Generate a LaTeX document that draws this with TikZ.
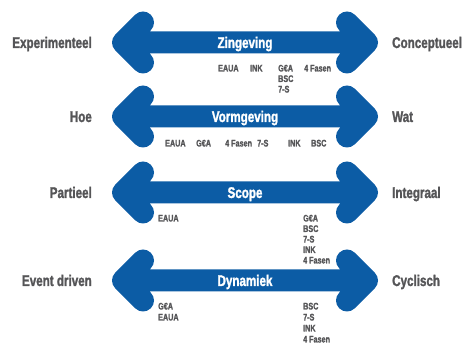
\documentclass[tikz,border=0pt]{standalone}
\usepackage{fontspec}
\setmainfont[FakeStretch=0.75, BoldFeatures={FakeBold=1.5}]{Liberation Sans}
\definecolor{arrowblue}{RGB}{12,92,165}
\definecolor{labelgray}{RGB}{85,85,87}
\tikzset{
  bigarrow/.style={draw=arrowblue, line width=22pt, line cap=round, line join=round},
  sidelabel/.style={inner sep=0pt, text=labelgray, font=\fontsize{15.5}{17}\selectfont\bfseries},
  arrowlabel/.style={inner sep=0pt, text=white, font=\fontsize{15.5}{17}\selectfont\bfseries, anchor=base},
  small/.style={inner sep=0pt, text=labelgray, font=\fontsize{9.6}{11}\selectfont\bfseries, anchor=base west}
}
\newcommand{\dblarrow}[2]{%
  \coordinate (#1l) at (123,#2);
  \coordinate (#1r) at (367,#2);
  \draw[bigarrow] ([shift={(20,-20)}]#1l) -- (#1l) -- ([shift={(20,20)}]#1l)
                  (#1l) -- (#1r)
                  ([shift={(-20,-20)}]#1r) -- (#1r) -- ([shift={(-20,20)}]#1r);
}
\begin{document}
\begin{tikzpicture}[x=1pt,y=-1pt]
\useasboundingbox (0,0) rectangle (464,344);

% arrows
\dblarrow{a1}{42.5}
\dblarrow{a2}{116.5}
\dblarrow{a3}{192.5}
\dblarrow{a4}{280.5}

% arrow labels
\node[arrowlabel] (t1) at (245,48) {Zingeving};
\node[arrowlabel] (t2) at (245,122) {Vormgeving};
\node[arrowlabel] (t3) at (245,198) {Scope};
\node[arrowlabel] (t4) at (245,286) {Dynamiek};

% left labels
\node[sidelabel, anchor=base east] (l1) at (92,48) {Experimenteel};
\node[sidelabel, anchor=base east] (l2) at (92,122) {Hoe};
\node[sidelabel, anchor=base east] (l3) at (92,198) {Partieel};
\node[sidelabel, anchor=base east] (l4) at (92,286) {Event driven};

% right labels
\node[sidelabel, anchor=base west] (r1) at (392,48) {Conceptueel};
\node[sidelabel, anchor=base west] (r2) at (392,122) {Wat};
\node[sidelabel, anchor=base west] (r3) at (392,198) {Integraal};
\node[sidelabel, anchor=base west] (r4) at (392,286) {Cyclisch};

% row 1
\node[small] (s1a) at (218,71.5) {EAUA};
\node[small] (s1b) at (250,71.5) {INK};
\node[small] (s1c) at (278,71.5) {G€A};
\node[small] (s1d) at (304,71.5) {4 Fasen};
\node[small] (s1e) at (278,82) {BSC};
\node[small] (s1f) at (278,92.5) {7-S};

% row 2
\node[small] (s2a) at (165,146.5) {EAUA};
\node[small] (s2b) at (196,146.5) {G€A};
\node[small] (s2c) at (225,146.5) {4 Fasen};
\node[small] (s2d) at (257,146.5) {7-S};
\node[small] (s2e) at (288,146.5) {INK};
\node[small] (s2f) at (311,146.5) {BSC};

% row 3
\node[small] (s3a) at (158,221.5) {EAUA};
\node[small] (s3b) at (303,221.5) {G€A};
\node[small] (s3c) at (303,232) {BSC};
\node[small] (s3d) at (303,242.5) {7-S};
\node[small] (s3e) at (303,253) {INK};
\node[small] (s3f) at (303,263.5) {4 Fasen};

% row 4
\node[small] (s4a) at (158,309.5) {G€A};
\node[small] (s4b) at (158,320.5) {EAUA};
\node[small] (s4c) at (303,309.5) {BSC};
\node[small] (s4d) at (303,320.5) {7-S};
\node[small] (s4e) at (303,331.5) {INK};
\node[small] (s4f) at (303,342.5) {4 Fasen};
\end{tikzpicture}
\end{document}
